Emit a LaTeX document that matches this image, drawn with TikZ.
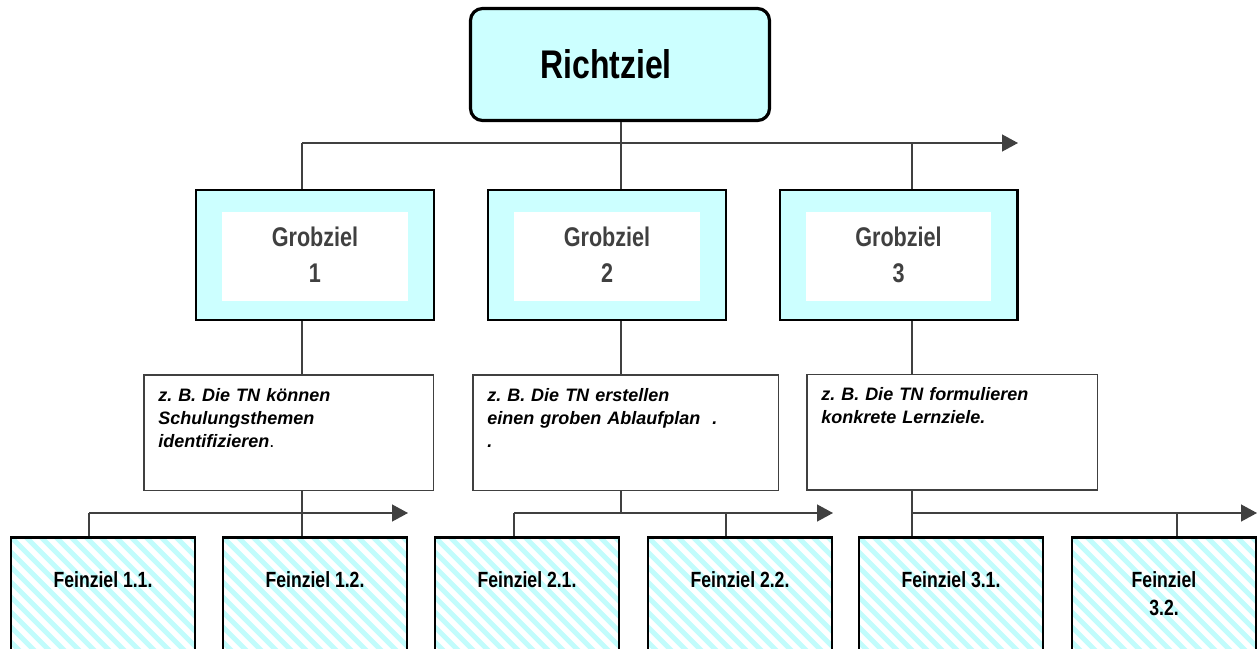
\documentclass[tikz,border=0pt]{standalone}
\usepackage{fontspec}
\setmainfont{Liberation Sans}
\newfontfamily\narrowfont[FakeStretch=0.8]{Liberation Sans}
\usetikzlibrary{arrows.meta}
\frenchspacing
\definecolor{zielcyan}{HTML}{CCFFFF}
\definecolor{stripecyan}{HTML}{C2FCFC}
\definecolor{linegray}{HTML}{404040}
\tikzset{
  conn/.style={draw=linegray, line width=1.3pt},
  arr/.style={conn, -{Triangle[length=16pt,width=17pt]}},
  richtbox/.style={draw, line width=3.2pt, fill=zielcyan, rounded corners=12pt,
    minimum width=299pt, minimum height=112pt,
    font=\narrowfont\bfseries\fontsize{40}{46}\selectfont},
  grobbox/.style={draw, line width=2.4pt, fill=zielcyan, inner sep=0pt,
    minimum width=237.6pt, minimum height=129.6pt, align=center, text=linegray,
    font=\narrowfont\bfseries\fontsize{27}{36}\selectfont,
    path picture={\fill[white] ([shift={(26pt,-22pt)}]path picture bounding box.north west)
      rectangle ([shift={(-26pt,19pt)}]path picture bounding box.south east);}},
  textbox/.style={draw=linegray, line width=1.5pt, align=left, inner xsep=14.5pt,
    inner ysep=0pt, text height=26.25pt, text depth=89.25pt,
    font=\bfseries\itshape\fontsize{18}{23}\selectfont},
  feinbox/.style={draw, line width=2.4pt, minimum width=183.6pt, inner xsep=0pt,
    inner ysep=0pt, text height=49.8pt, text depth=80pt, align=center,
    font=\narrowfont\bfseries\fontsize{22}{28}\selectfont,
    path picture={\foreach \k in {-10,...,14}
      \draw[stripecyan, line width=5pt] ([xshift=\k*15pt]path picture bounding box.north west) -- ++(200pt,-200pt);}}
}
\begin{document}
\begin{tikzpicture}[x=1pt,y=-1pt]
\useasboundingbox (0,0) rectangle (1258,648);
\clip (0,0) rectangle (1258,648);
\node[richtbox] (rz) at (620,64.5){\hspace*{-28pt}Richtziel};
\node[grobbox] (g1) at (315,255){Grobziel\\1};
\node[grobbox] (g2) at (607,255){Grobziel\\2};
\node[grobbox] (g3) at (898.5,255){Grobziel\\3};
\node[textbox, text width=260.5pt] (t1) at (288.5,432.5){z. B. Die TN können\\Schulungsthemen\\identifizieren{\mdseries\upshape .}};
\node[textbox, text width=276.5pt] (t2) at (625.5,432.5){z. B. Die TN erstellen\\einen groben Ablaufplan~ .\\.};
\node[textbox, text width=261.5pt] (t3) at (952,432){z. B. Die TN formulieren\\konkrete Lernziele.};
\node[feinbox] (f11) at (103,602.2){Feinziel 1.1.};
\node[feinbox] (f12) at (315,602.2){Feinziel 1.2.};
\node[feinbox] (f21) at (527,602.2){Feinziel 2.1.};
\node[feinbox] (f22) at (740,602.2){Feinziel 2.2.};
\node[feinbox] (f31) at (951,602.2){Feinziel 3.1.};
\node[feinbox, text height=77.8pt, text depth=52pt] (f32) at (1164,602.2){Feinziel\\3.2.};
\coordinate (m1) at (302,143);
\coordinate (m2) at (621,143);
\coordinate (m3) at (912,143);
\coordinate (mend) at (1018,143);
\coordinate (l1) at (89,513);
\coordinate (r1) at (408,513);
\coordinate (l2) at (514,513);
\coordinate (k2) at (726,513);
\coordinate (r2) at (833,513);
\coordinate (k3) at (1177,513);
\coordinate (r3) at (1257,513);
\draw[conn] (rz.south -| m2) -- (g2.north -| m2);
\draw[arr] (m1) -- (mend);
\draw[conn] (m1) -- (g1.north -| m1);
\draw[conn] (m3) -- (g3.north -| m3);
\draw[conn] (g1.south -| m1) -- (t1.north -| m1);
\draw[conn] (g2.south -| m2) -- (t2.north -| m2);
\draw[conn] (g3.south -| m3) -- (t3.north -| m3);
\draw[arr] (l1) -- (r1);
\draw[conn] (l1) -- (f11.north -| l1);
\draw[conn] (t1.south -| m1) -- (f12.north -| m1);
\draw[arr] (l2) -- (r2);
\draw[conn] (l2) -- (f21.north -| l2);
\draw[conn] (t2.south -| m2) -- (m2 |- l2);
\draw[conn] (k2) -- (f22.north -| k2);
\draw[arr] (m3 |- r3) -- (r3);
\draw[conn] (t3.south -| m3) -- (f31.north -| m3);
\draw[conn] (k3) -- (f32.north -| k3);
\end{tikzpicture}
\end{document}
